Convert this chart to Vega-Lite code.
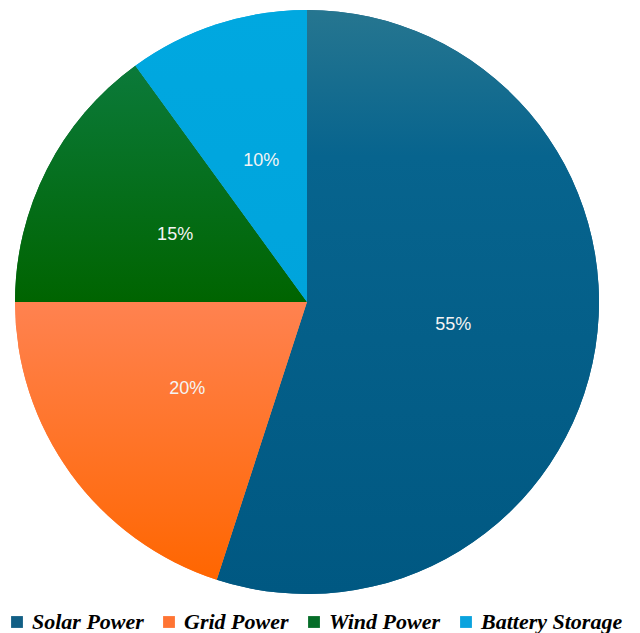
{
  "$schema": "https://vega.github.io/schema/vega-lite/v6.json",
  "width": 614,
  "height": 604,
  "padding": {"left": 0, "top": 0, "right": 0, "bottom": 0},
  "data": {"values": [
    {"source": "Solar Power", "value": 55, "label": "55%", "rank": 1},
    {"source": "Grid Power", "value": 20, "label": "20%", "rank": 2},
    {"source": "Wind Power", "value": 15, "label": "15%", "rank": 3},
    {"source": "Battery Storage", "value": 10, "label": "10%", "rank": 4}
  ]},
  "encoding": {
    "theta": {"field": "value", "type": "quantitative", "stack": true},
    "order": {"field": "rank", "type": "quantitative"}
  },
  "layer": [
    {
      "mark": {"type": "arc", "outerRadius": 292},
      "encoding": {
        "color": {
          "field": "source", "type": "nominal",
          "scale": {"domain": ["Solar Power", "Grid Power", "Wind Power", "Battery Storage"],
                    "range": ["#125f85", "#ff7433", "#056d28", "#0aa3de"]},
          "legend": {
            "orient": "none", "legendX": 6, "legendY": 611, "direction": "horizontal", "title": null,
            "symbolType": "square", "symbolSize": 140, "symbolStrokeWidth": 0,
            "labelFont": "Liberation Serif", "labelFontStyle": "italic", "labelFontWeight": "bold",
            "labelFontSize": 22, "labelColor": "black", "labelLimit": 300,
            "columnPadding": 14, "labelOffset": 4, "padding": 0
          }
        }
      }
    },
    {
      "mark": {"type": "arc", "outerRadius": 292},
      "encoding": {
        "fill": {
          "condition": [
            {"test": "datum.source === 'Solar Power'", "value": {"gradient": "linear", "x1": 0, "y1": 0, "x2": 0, "y2": 1, "stops": [{"offset": 0, "color": "#267690"}, {"offset": 0.25, "color": "#07648e"}, {"offset": 1, "color": "#005882"}]}},
            {"test": "datum.source === 'Grid Power'", "value": {"gradient": "linear", "x1": 0, "y1": 0, "x2": 0, "y2": 1, "stops": [{"offset": 0, "color": "#ff8250"}, {"offset": 1, "color": "#ff6600"}]}},
            {"test": "datum.source === 'Wind Power'", "value": {"gradient": "linear", "x1": 0, "y1": 0, "x2": 0, "y2": 1, "stops": [{"offset": 0, "color": "#0b7a3a"}, {"offset": 1, "color": "#006400"}]}}
          ],
          "value": {"gradient": "linear", "x1": 0, "y1": 0, "x2": 0, "y2": 1, "stops": [{"offset": 0, "color": "#00a8e0"}, {"offset": 1, "color": "#00a4dc"}]}
        }
      }
    },
    {
      "mark": {"type": "text", "radius": 148, "fontSize": 18, "fill": "#f4f4f4", "font": "Liberation Sans"},
      "encoding": {"text": {"field": "label"}}
    }
  ],
  "config": {"view": {"stroke": null}}
}
